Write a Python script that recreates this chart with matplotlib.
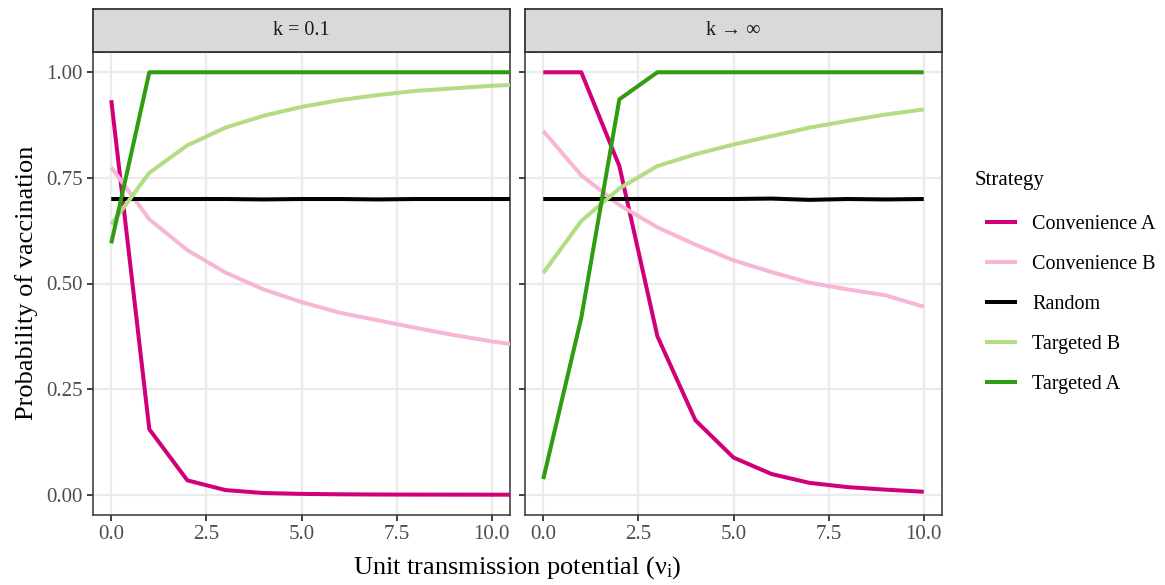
"""Probability of vaccination vs unit transmission potential, two facets (k)."""
import matplotlib

matplotlib.use("Agg")
import matplotlib.pyplot as plt
from matplotlib.lines import Line2D

# ---- data ----
x_left = [0, 1, 2, 3, 4, 5, 6, 7, 8, 9, 10, 11]
x_right = [0, 1, 2, 3, 4, 5, 6, 7, 8, 9, 10]

left_conv_a = [0.934, 0.155, 0.034, 0.011, 0.004, 0.002, 0.001, 0.0005, 0.0003, 0.0002, 0.0001, 0.0001]
left_conv_b = [0.775, 0.652, 0.579, 0.526, 0.486, 0.456, 0.431, 0.413, 0.395, 0.378, 0.363, 0.350]
left_random = [0.700, 0.700, 0.700, 0.700, 0.699, 0.700, 0.700, 0.699, 0.700, 0.700, 0.700, 0.700]
left_targ_b = [0.640, 0.762, 0.827, 0.869, 0.897, 0.918, 0.934, 0.946, 0.956, 0.962, 0.968, 0.972]
left_targ_a = [0.595, 1.0, 1.0, 1.0, 1.0, 1.0, 1.0, 1.0, 1.0, 1.0, 1.0, 1.0]

right_conv_a = [1.0, 1.0, 0.778, 0.375, 0.176, 0.088, 0.049, 0.028, 0.018, 0.012, 0.007]
right_conv_b = [0.861, 0.756, 0.686, 0.633, 0.592, 0.555, 0.527, 0.502, 0.486, 0.472, 0.445]
right_random = [0.700, 0.700, 0.700, 0.700, 0.700, 0.700, 0.701, 0.698, 0.700, 0.699, 0.700]
right_targ_b = [0.525, 0.648, 0.725, 0.778, 0.806, 0.829, 0.849, 0.869, 0.885, 0.900, 0.912]
right_targ_a = [0.037, 0.419, 0.936, 1.0, 1.0, 1.0, 1.0, 1.0, 1.0, 1.0, 1.0]

STRATEGIES = ["Convenience A", "Convenience B", "Random", "Targeted B", "Targeted A"]
COLORS = ["#D1007A", "#F8B6D6", "#000000", "#B4DC84", "#2F9C12"]
FACETS = ["k = 0.1", "k \u2192 \u221e"]
X_TICKS = [0.0, 2.5, 5.0, 7.5, 10.0]
Y_TICKS = [0.0, 0.25, 0.5, 0.75, 1.0]

W, H = 1165, 585
SERIF = ["Liberation Serif", "DejaVu Serif"]

plt.rcParams.update(
    {
        "font.family": SERIF,
        "mathtext.fontset": "custom",
        "mathtext.rm": "Liberation Serif",
        "mathtext.it": "Liberation Serif:italic",
        "axes.linewidth": 1.1,
    }
)

fig = plt.figure(figsize=(W / 100, H / 100), dpi=100)

panels = [
    (93, x_left, [left_conv_a, left_conv_b, left_random, left_targ_b, left_targ_a]),
    (525, x_right, [right_conv_a, right_conv_b, right_random, right_targ_b, right_targ_a]),
]
pw = 417
top, bottom = 52, 515
strip_top = 9

for i, (px, xs, series) in enumerate(panels):
    ax = fig.add_axes([px / W, 1 - bottom / H, pw / W, (bottom - top) / H])
    for ys, col, name in zip(series, COLORS, STRATEGIES):
        ax.plot(xs, ys, color=col, lw=2.9, label=name, solid_capstyle="butt", zorder=3)
    ax.set_xlim(-0.48, 10.48)
    ax.set_ylim(-0.048, 1.048)
    ax.set_xticks(X_TICKS)
    ax.set_xticklabels([f"{t:.1f}" for t in X_TICKS])
    ax.set_yticks(Y_TICKS)
    if i == 0:
        ax.set_yticklabels([f"{t:.2f}" for t in Y_TICKS])
    else:
        ax.set_yticklabels([])
        ax.tick_params(axis="y", length=0)
    ax.grid(True, color="#EBEBEB", lw=1.6, zorder=0)
    ax.set_axisbelow(True)
    for sp in ax.spines.values():
        sp.set_color("#333333")
    ax.tick_params(colors="#333333", labelcolor="#4D4D4D", labelsize=15,
                   length=4.5, width=1.3, pad=3)

    # facet strip
    sax = fig.add_axes([px / W, 1 - top / H, pw / W, (top - strip_top) / H])
    sax.set_facecolor("#D9D9D9")
    sax.set_xticks([])
    sax.set_yticks([])
    for sp in sax.spines.values():
        sp.set_color("#333333")
        sp.set_linewidth(1.3)
    sax.text(0.5, 0.5, FACETS[i], ha="center", va="center", fontsize=14.5,
             color="#1A1A1A", transform=sax.transAxes)

fig.text((93 + 942) / 2 / W, 1 - 568 / H,
         r"Unit transmission potential ($\mathregular{\nu_{i}}$)",
         ha="center", va="center", fontsize=19)
fig.text(27 / W, 1 - 283 / H, "Probability of vaccination", rotation=90,
         ha="center", va="center", fontsize=19)

# legend
fig.text(975 / W, 1 - 180 / H, "Strategy", ha="left", va="center", fontsize=15)
handles = [Line2D([], [], color=c, lw=2.9) for c in COLORS]
fig.legend(handles, STRATEGIES, loc="upper left",
           bbox_to_anchor=(987 / W, 1 - 215 / H), frameon=False, fontsize=14.5,
           handlelength=1.4, handletextpad=0.85, labelspacing=1.04,
           borderpad=0, borderaxespad=0)

fig.savefig("out.png", dpi=100)
